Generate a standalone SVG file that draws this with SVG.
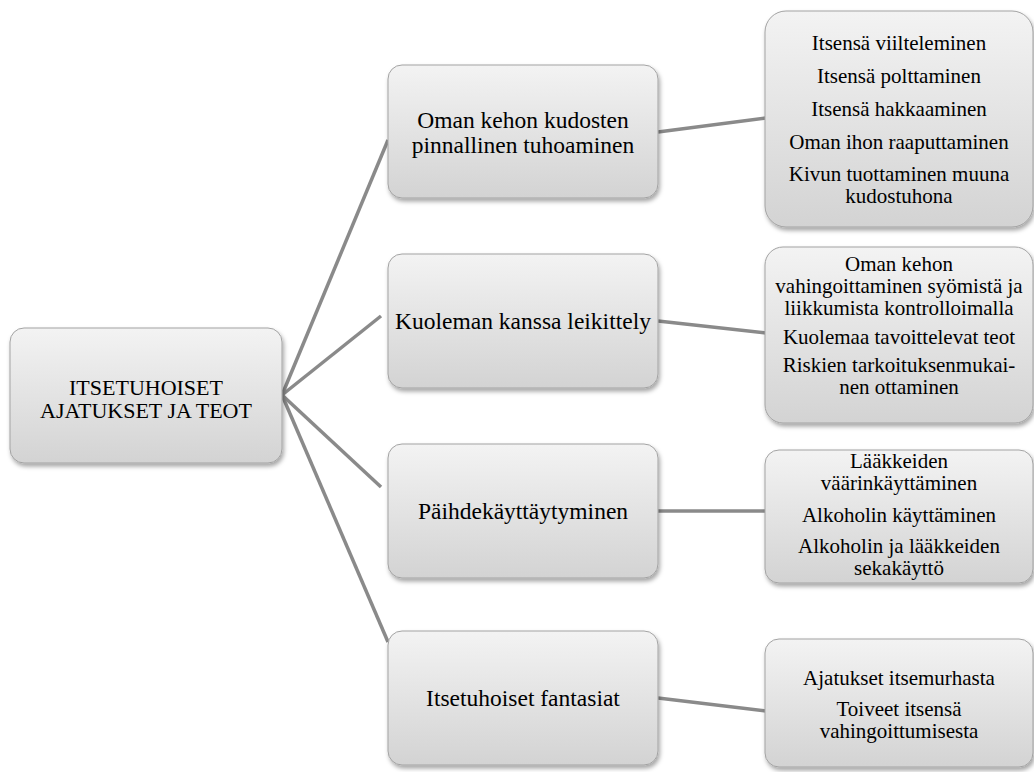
<svg xmlns="http://www.w3.org/2000/svg" width="1034" height="772" viewBox="0 0 1034 772">
  <defs>
    <linearGradient id="g" x1="0" y1="0" x2="0" y2="1">
      <stop offset="0" stop-color="#f3f3f3"/>
      <stop offset="1" stop-color="#d3d3d3"/>
    </linearGradient>
    <filter id="sh" x="-10%" y="-10%" width="120%" height="125%">
      <feDropShadow dx="1.5" dy="3" stdDeviation="2" flood-color="#000" flood-opacity="0.35"/>
    </filter>
  </defs>
  <style>
    .box { fill: url(#g); stroke: #a3a3a3; stroke-width: 1; filter: url(#sh); }
    text { font-family: 'Liberation Serif', 'DejaVu Serif', serif; fill: #000; text-anchor: middle; }
    .big { font-size: 22px; }
    .mid { font-size: 23.5px; }
    .sm { font-size: 21px; }
    .c { stroke: #8a8a8a; stroke-width: 3.5; fill: none; }
  </style>
  <rect width="1034" height="772" fill="#fff"/>
  <g id="connectors">
    <line class="c" x1="282" y1="395" x2="388" y2="140"/>
    <line class="c" x1="282" y1="395" x2="381" y2="316"/>
    <line class="c" x1="282" y1="395" x2="381" y2="487"/>
    <line class="c" x1="282" y1="395" x2="388" y2="642"/>
    <line class="c" x1="658" y1="132" x2="766" y2="118"/>
    <line class="c" x1="658" y1="321" x2="766" y2="333"/>
    <line class="c" x1="658" y1="511" x2="766" y2="511"/>
    <line class="c" x1="658" y1="698" x2="766" y2="711"/>
  </g>
  <g id="root">
    <rect class="box" x="10" y="328" width="272" height="135" rx="14"/>
    <text class="big" x="146" y="395">ITSETUHOISET</text>
    <text class="big" x="146" y="418">AJATUKSET JA TEOT</text>
  </g>
  <g id="mid1">
    <rect class="box" x="388" y="65" width="270" height="133" rx="14"/>
    <text class="mid" x="523" y="128">Oman kehon kudosten</text>
    <text class="mid" x="523" y="153">pinnallinen tuhoaminen</text>
  </g>
  <g id="mid2">
    <rect class="box" x="388" y="254" width="270" height="134" rx="14"/>
    <text class="mid" x="523" y="329">Kuoleman kanssa leikittely</text>
  </g>
  <g id="mid3">
    <rect class="box" x="388" y="444" width="270" height="134" rx="14"/>
    <text class="mid" x="523" y="519">Päihdekäyttäytyminen</text>
  </g>
  <g id="mid4">
    <rect class="box" x="388" y="631" width="270" height="134" rx="14"/>
    <text class="mid" x="523" y="706">Itsetuhoiset fantasiat</text>
  </g>
  <g id="leafA">
    <rect class="box" x="765" y="11" width="268" height="216" rx="21"/>
    <text class="sm" x="899" y="50">Itsensä viilteleminen</text>
    <text class="sm" x="899" y="83">Itsensä polttaminen</text>
    <text class="sm" x="899" y="116">Itsensä hakkaaminen</text>
    <text class="sm" x="899" y="149">Oman ihon raaputtaminen</text>
    <text class="sm" x="899" y="181">Kivun tuottaminen muuna</text>
    <text class="sm" x="899" y="203">kudostuhona</text>
  </g>
  <g id="leafB">
    <rect class="box" x="765" y="247" width="268" height="176" rx="18"/>
    <text class="sm" x="899" y="271">Oman kehon</text>
    <text class="sm" x="899" y="293">vahingoittaminen syömistä ja</text>
    <text class="sm" x="899" y="315">liikkumista kontrolloimalla</text>
    <text class="sm" x="899" y="344">Kuolemaa tavoittelevat teot</text>
    <text class="sm" x="899" y="372">Riskien tarkoituksenmukai-</text>
    <text class="sm" x="899" y="394">nen ottaminen</text>
  </g>
  <g id="leafC">
    <rect class="box" x="765" y="450" width="268" height="133" rx="14"/>
    <text class="sm" x="899" y="468">Lääkkeiden</text>
    <text class="sm" x="899" y="490">väärinkäyttäminen</text>
    <text class="sm" x="899" y="522">Alkoholin käyttäminen</text>
    <text class="sm" x="899" y="553">Alkoholin ja lääkkeiden</text>
    <text class="sm" x="899" y="575">sekakäyttö</text>
  </g>
  <g id="leafD">
    <rect class="box" x="765" y="639" width="268" height="128" rx="14"/>
    <text class="sm" x="899" y="685">Ajatukset itsemurhasta</text>
    <text class="sm" x="899" y="716">Toiveet itsensä</text>
    <text class="sm" x="899" y="738">vahingoittumisesta</text>
  </g>
</svg>
